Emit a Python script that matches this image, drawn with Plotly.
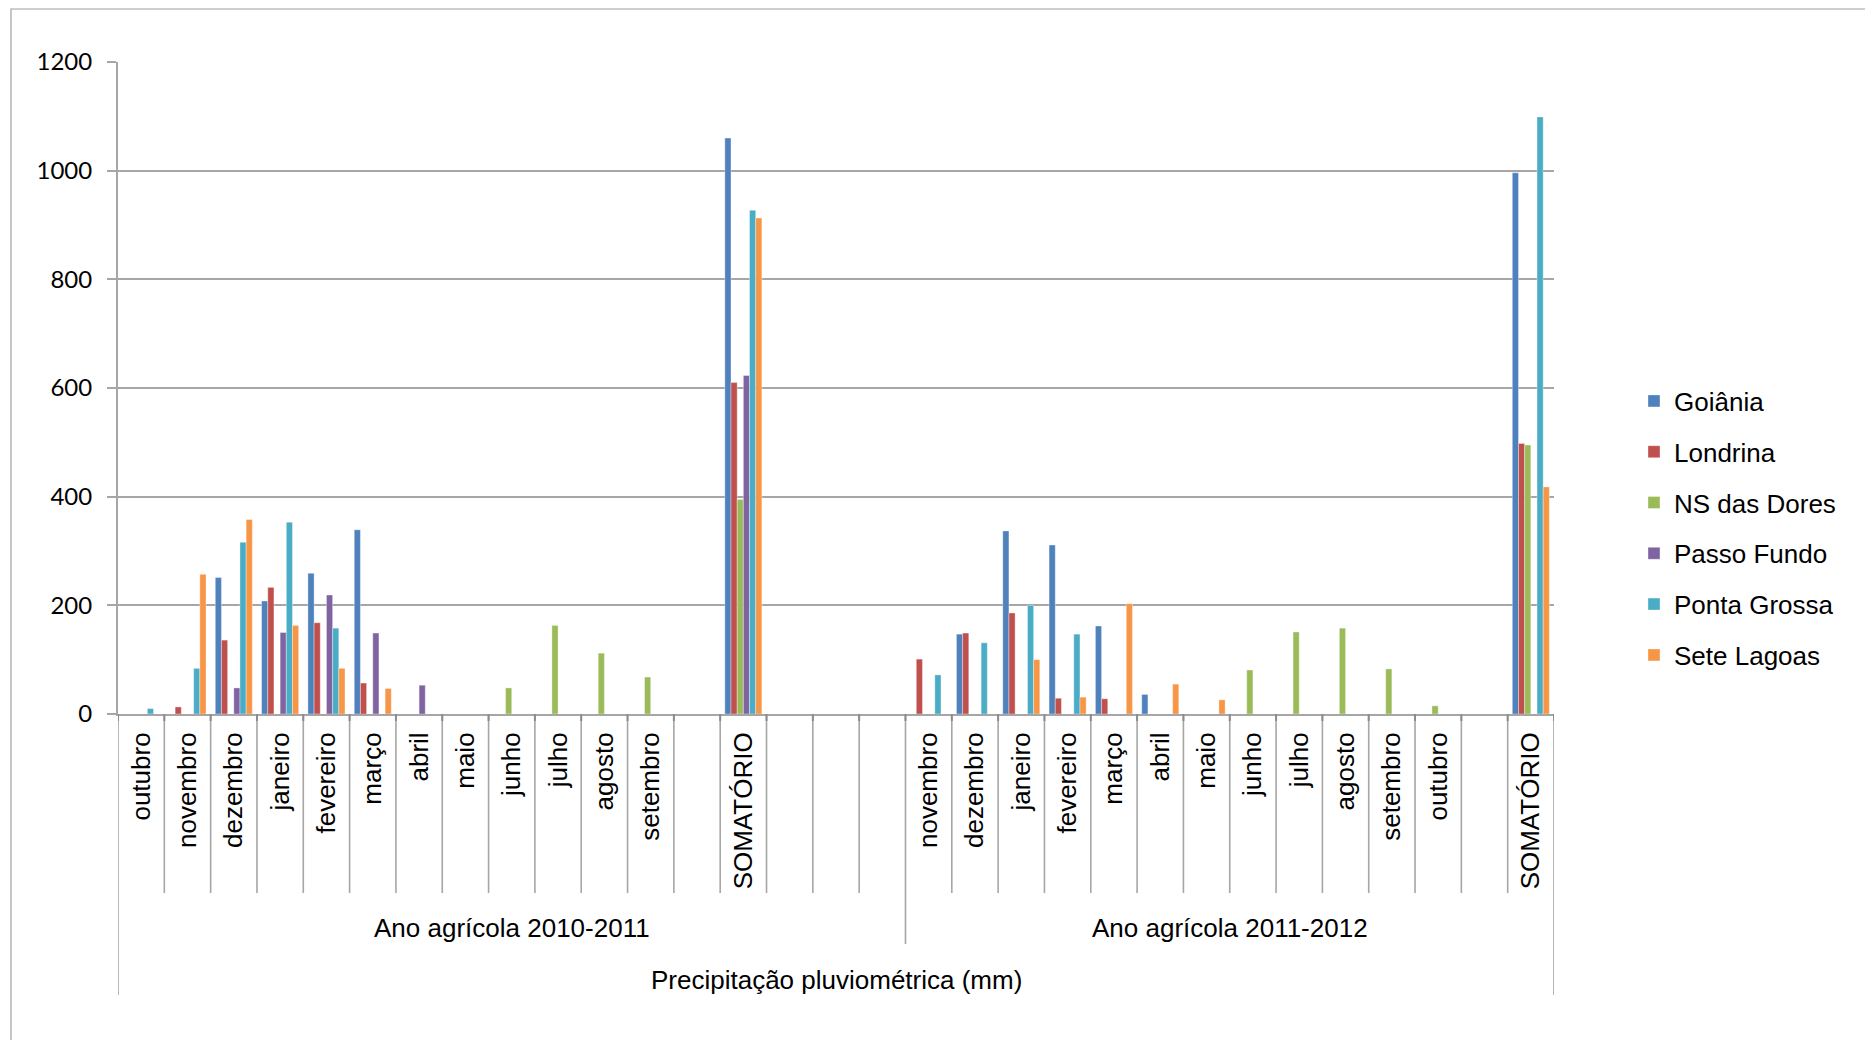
import plotly.graph_objects as go

# ---- data ----
months_1 = ["outubro", "novembro", "dezembro", "janeiro", "fevereiro", "março", "abril",
            "maio", "junho", "julho", "agosto", "setembro", "", "SOMATÓRIO", "", "", ""]
months_2 = ["novembro", "dezembro", "janeiro", "fevereiro", "março", "abril", "maio",
            "junho", "julho", "agosto", "setembro", "outubro", "", "SOMATÓRIO"]
groups = ["Ano agrícola 2010-2011", "Ano agrícola 2011-2012"]
axis_title = "Precipitação pluviométrica (mm)"

N = None
goiania_1 = [N, N, 251, 208, 259, 339, N, N, N, N, N, N, N, 1060, N, N, N]
londrina_1 = [N, 13, 136, 233, 168, 57, N, N, N, N, N, N, N, 610, N, N, N]
nsdores_1 = [N, N, N, N, N, N, N, N, 48, 163, 112, 68, N, 395, N, N, N]
passofundo_1 = [N, N, 48, 150, 219, 149, 53, N, N, N, N, N, N, 623, N, N, N]
pontagrossa_1 = [10, 84, 316, 353, 158, N, N, N, N, N, N, N, N, 927, N, N, N]
setelagoas_1 = [N, 257, 358, 163, 84, 47, N, N, N, N, N, N, N, 913, N, N, N]

goiania_2 = [N, 147, 337, 311, 162, 36, N, N, N, N, N, N, N, 996]
londrina_2 = [101, 149, 186, 29, 28, N, N, N, N, N, N, N, N, 498]
nsdores_2 = [N, N, N, N, N, N, N, 81, 151, 158, 83, 15, N, 495]
passofundo_2 = [N, N, N, N, N, N, N, N, N, N, N, N, N, N]
pontagrossa_2 = [72, 131, 200, 147, N, N, N, N, N, N, N, N, N, 1099]
setelagoas_2 = [N, N, 100, 31, 203, 55, 26, N, N, N, N, N, N, 418]

series_names = ["Goiânia", "Londrina", "NS das Dores", "Passo Fundo", "Ponta Grossa", "Sete Lagoas"]
series_values = [
    goiania_1 + goiania_2,
    londrina_1 + londrina_2,
    nsdores_1 + nsdores_2,
    passofundo_1 + passofundo_2,
    pontagrossa_1 + pontagrossa_2,
    setelagoas_1 + setelagoas_2,
]
colors = ["#4F81BD", "#C0504D", "#9BBB59", "#8064A2", "#4BACC6", "#F79646"]

labels = months_1 + months_2
n_cat = len(labels)
xs = list(range(n_cat))

# ---- geometry (pixels) ----
W, H = 1865, 1040
L_PX, R_PX, T_PX, B_PX = 118, 1554, 62, 714
plot_h = B_PX - T_PX
plot_w = R_PX - L_PX


def py(p):
    return (B_PX - p) / plot_h


def px(p):
    return (p - L_PX) / plot_w


GRAY = "#A6A6A6"
FONT = "Liberation Sans, Arial, sans-serif"

fig = go.Figure()
for name, vals, col in zip(series_names, series_values, colors):
    fig.add_trace(go.Bar(
        x=xs, y=vals, name=name,
        marker=dict(color=col, line=dict(width=0.6, color="rgba(255,255,255,0.6)")),
        legendgroup=name,
    ))

shapes = []
n1 = len(months_1)
for k in range(n_cat + 1):
    xb = k - 0.5
    if k == 0 or k == n_cat:
        y_end = py(995)
    elif k == n1:
        y_end = py(944)
    else:
        y_end = py(893)
    shapes.append(dict(type="line", xref="x", yref="paper", x0=xb, x1=xb, y0=0, y1=y_end,
                       line=dict(color=GRAY, width=1.6), layer="above"))
    shapes.append(dict(type="line", xref="x", yref="paper", x0=xb, x1=xb, y0=0, y1=py(721),
                       line=dict(color="#8C8C8C", width=2), layer="above"))
# outer frame
shapes.append(dict(type="rect", xref="paper", yref="paper", x0=px(11), x1=px(1875), y0=py(1050), y1=py(9),
                   line=dict(color="#A0A0A0", width=1.2), layer="below"))

annotations = [
    dict(text=groups[0], xref="x", yref="paper", x=(0 + n1 - 1) / 2, y=py(928), showarrow=False,
         font=dict(family=FONT, size=26, color="black"), xanchor="center", yanchor="middle"),
    dict(text=groups[1], xref="x", yref="paper", x=(n1 + n_cat - 1) / 2, y=py(928), showarrow=False,
         font=dict(family=FONT, size=26, color="black"), xanchor="center", yanchor="middle"),
    dict(text=axis_title, xref="x", yref="paper", x=(n_cat - 1) / 2, y=py(980), showarrow=False,
         font=dict(family=FONT, size=26, color="black"), xanchor="center", yanchor="middle"),
]

fig.update_layout(
    width=W, height=H,
    margin=dict(l=L_PX, r=W - R_PX, t=T_PX, b=H - B_PX, autoexpand=False),
    paper_bgcolor="white", plot_bgcolor="white",
    barmode="group", bargap=0.2, bargroupgap=0,
    shapes=shapes, annotations=annotations,
    legend=dict(x=px(1634), xanchor="left", y=py(528), yanchor="middle",
                font=dict(family=FONT, size=26, color="black"),
                itemwidth=30, tracegroupgap=14, traceorder="grouped"),
    xaxis=dict(range=[-0.5, n_cat - 0.5], tickvals=xs, ticktext=labels, tickangle=-90,
               tickfont=dict(family=FONT, size=26, color="black"), showgrid=False,
               showline=True, linecolor=GRAY, linewidth=2, ticks="", zeroline=False,
               ticklabelstandoff=6),
    yaxis=dict(range=[0, 1200], dtick=200, tick0=0, showgrid=True, gridcolor=GRAY, gridwidth=2,
               showline=True, linecolor=GRAY, linewidth=2, ticks="outside", ticklen=9,
               tickcolor=GRAY, tickwidth=2, zeroline=False,
               tickfont=dict(family="Lato, Carlito, Calibri, sans-serif", size=24, color="black"),
               ticklabelstandoff=10),
    showlegend=True,
)

fig.write_html("out.html")
